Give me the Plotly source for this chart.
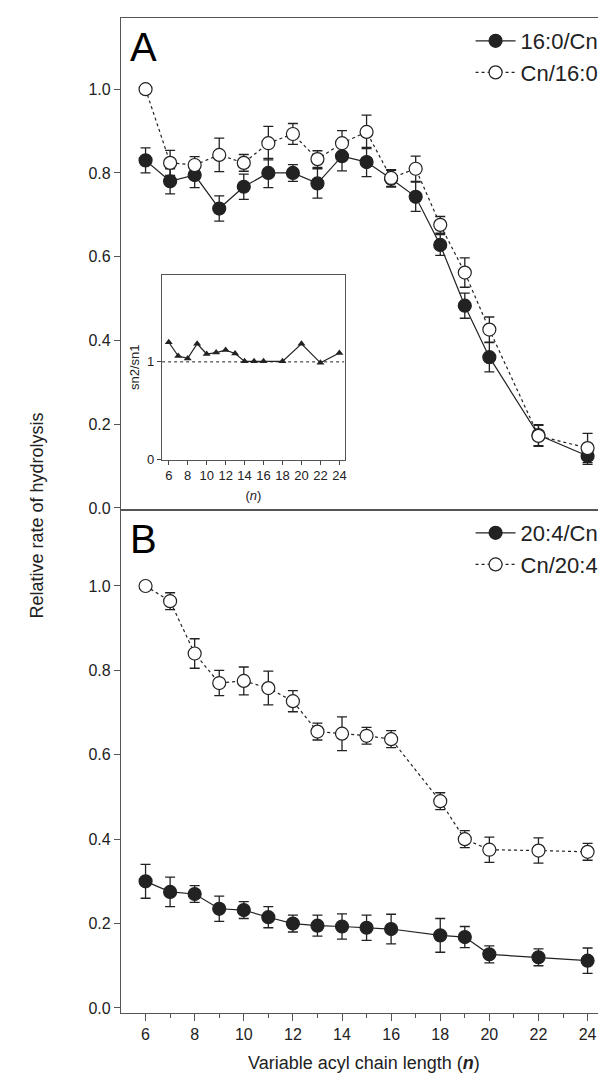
import plotly.graph_objects as go
from plotly.subplots import make_subplots

# --- data -------------------------------------------------------------
n_a = [6, 7, 8, 9, 10, 11, 12, 13, 14, 15, 16, 17, 18, 19, 20, 22, 24]
a_sn1 = [0.83, 0.78, 0.795, 0.715, 0.767, 0.80, 0.80, 0.775, 0.84, 0.826, 0.786, 0.743, 0.628, 0.483, 0.36, 0.174, 0.124]
a_sn1_err = [0.03, 0.03, 0.03, 0.03, 0.03, 0.035, 0.02, 0.035, 0.035, 0.035, 0.02, 0.035, 0.025, 0.03, 0.035, 0.025, 0.02]
a_sn2 = [1.0, 0.824, 0.819, 0.843, 0.824, 0.871, 0.893, 0.833, 0.871, 0.898, 0.788, 0.81, 0.676, 0.562, 0.426, 0.172, 0.143]
a_sn2_err = [0.0, 0.03, 0.02, 0.04, 0.02, 0.04, 0.025, 0.02, 0.03, 0.04, 0.02, 0.03, 0.02, 0.035, 0.03, 0.025, 0.035]

n_inset = [6, 7, 8, 9, 10, 11, 12, 13, 14, 15, 16, 18, 20, 22, 24]
ratio = [1.20, 1.06, 1.035, 1.185, 1.08, 1.095, 1.12, 1.085, 1.005, 1.005, 1.005, 1.005, 1.185, 0.99, 1.09]

n_b = [6, 7, 8, 9, 10, 11, 12, 13, 14, 15, 16, 18, 19, 20, 22, 24]
b_sn1 = [0.30, 0.275, 0.27, 0.235, 0.232, 0.215, 0.20, 0.195, 0.193, 0.19, 0.187, 0.172, 0.168, 0.127, 0.12, 0.112]
b_sn1_err = [0.04, 0.035, 0.02, 0.03, 0.02, 0.025, 0.02, 0.025, 0.03, 0.03, 0.035, 0.04, 0.025, 0.02, 0.02, 0.03]
b_sn2 = [1.0, 0.964, 0.84, 0.77, 0.775, 0.758, 0.727, 0.655, 0.65, 0.645, 0.637, 0.49, 0.40, 0.375, 0.373, 0.37]
b_sn2_err = [0.0, 0.02, 0.035, 0.03, 0.033, 0.04, 0.025, 0.02, 0.04, 0.02, 0.02, 0.02, 0.02, 0.03, 0.03, 0.02]

DARK = "#222"
FONT = "Liberation Sans, Arial, sans-serif"

fig = make_subplots(rows=2, cols=1, shared_xaxes=True, vertical_spacing=0)


def series(x, y, err, name, filled, row, legend):
    fig.add_trace(go.Scatter(
        x=x, y=y, name=name, mode="lines+markers", legend=legend,
        line=dict(color=DARK, width=1.2, dash="solid" if filled else "dot"),
        marker=dict(size=13, symbol="circle",
                    color=DARK if filled else "white", line=dict(color=DARK, width=1.2)),
        error_y=dict(type="data", array=err, color=DARK, thickness=1.3, width=5),
    ), row=row, col=1)


series(n_a, a_sn1, a_sn1_err, "16:0/Cn", True, 1, "legend")
series(n_a, a_sn2, a_sn2_err, "Cn/16:0", False, 1, "legend")
series(n_b, b_sn1, b_sn1_err, "20:4/Cn", True, 2, "legend2")
series(n_b, b_sn2, b_sn2_err, "Cn/20:4", False, 2, "legend2")

# inset
fig.add_trace(go.Scatter(
    x=[5.3, 24.5], y=[1, 1], mode="lines", xaxis="x3", yaxis="y3", showlegend=False,
    line=dict(color=DARK, width=1, dash="dot"), hoverinfo="skip"))
fig.add_trace(go.Scatter(
    x=n_inset, y=ratio, mode="lines+markers", xaxis="x3", yaxis="y3", showlegend=False,
    line=dict(color=DARK, width=1.2), marker=dict(symbol="triangle-up", size=7, color=DARK)))

axis_common = dict(showline=True, linecolor="#555", linewidth=1.2, mirror=True,
                   showgrid=False, zeroline=False, tickcolor="#555",
                   tickfont=dict(size=16, color=DARK, family=FONT))

ydom = 0.5055
fig.update_layout(
    width=606, height=1080,
    paper_bgcolor="white", plot_bgcolor="white",
    margin=dict(l=113, r=6, t=10, b=75),
    font=dict(family=FONT, color=DARK),
    xaxis=dict(range=[5.0, 24.75], showticklabels=False, ticks="", **axis_common),
    xaxis2=dict(range=[5.0, 24.75], tickvals=list(range(6, 25, 2)), ticks="outside",
                ticklen=7, minor=dict(tickvals=list(range(7, 24, 2)), ticks="outside", ticklen=4, tickcolor="#555"),
                **axis_common),
    yaxis=dict(domain=[ydom, 1], range=[-0.005, 1.17], tickvals=[0, 0.2, 0.4, 0.6, 0.8, 1.0],
               tickformat=".1f", ticks="outside", ticklen=6, **axis_common),
    yaxis2=dict(domain=[0, ydom], range=[-0.012, 1.18], tickvals=[0, 0.2, 0.4, 0.6, 0.8, 1.0],
                tickformat=".1f", ticks="outside", ticklen=6, **axis_common),
    xaxis3=dict(domain=[0.084, 0.462], anchor="y3", range=[5.26, 24.6],
                tickvals=list(range(6, 25, 2)), ticks="outside", ticklen=4,
                showline=True, linecolor="#555", linewidth=1, mirror=True, showgrid=False, zeroline=False,
                tickfont=dict(size=13, color=DARK, family=FONT),
                title=dict(text="(<i>n</i>)", font=dict(size=13, color=DARK), standoff=8)),
    yaxis3=dict(domain=[0.556, 0.742], anchor="x3", range=[0, 1.89], tickvals=[0, 1],
                ticks="outside", ticklen=4,
                showline=True, linecolor="#555", linewidth=1, mirror=True, showgrid=False, zeroline=False,
                tickfont=dict(size=13, color=DARK, family=FONT),
                title=dict(text="sn2/sn1", font=dict(size=13, color=DARK), standoff=4)),
    legend=dict(x=0.995, xanchor="right", y=0.998, yanchor="top", bgcolor="rgba(0,0,0,0)",
                font=dict(size=22, color=DARK), tracegroupgap=0, itemwidth=40),
    legend2=dict(x=0.995, xanchor="right", y=ydom - 0.002, yanchor="top", bgcolor="rgba(0,0,0,0)",
                 font=dict(size=22, color=DARK), tracegroupgap=0, itemwidth=40),
    showlegend=True,
)

fig.add_annotation(text="A", x=0.015, y=0.995, xref="paper", yref="paper", xanchor="left",
                   yanchor="top", showarrow=False, font=dict(size=40, color="black"))
fig.add_annotation(text="B", x=0.015, y=ydom - 0.005, xref="paper", yref="paper", xanchor="left",
                   yanchor="top", showarrow=False, font=dict(size=40, color="black"))
fig.add_annotation(text="Relative rate of hydrolysis", x=-0.2, y=0.5, xref="paper", yref="paper",
                   textangle=-90, showarrow=False, font=dict(size=18, color=DARK))
fig.add_annotation(text="Variable acyl chain length (<b><i>n</i></b>)", x=0.5, y=-0.062,
                   xref="paper", yref="paper", showarrow=False, font=dict(size=18, color=DARK))

fig.write_html("out.html")
